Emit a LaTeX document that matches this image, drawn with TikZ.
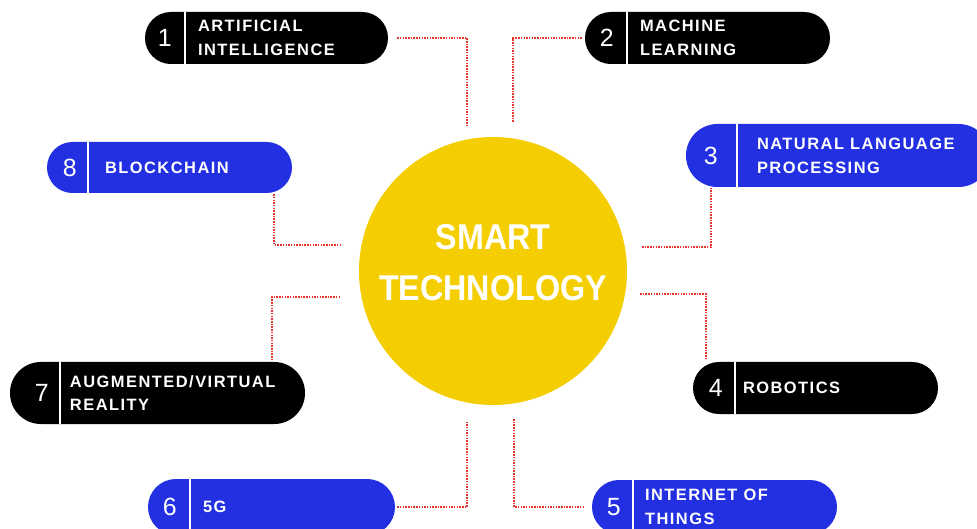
\documentclass[tikz,border=0pt]{standalone}
\usepackage{fontspec}
\setmainfont{Liberation Sans}
\newfontfamily\lblfont[LetterSpace=9]{Liberation Sans}
\newfontfamily\hubfont[FakeStretch=0.9]{Liberation Sans}
\definecolor{ink}{RGB}{0,0,0}
\definecolor{royal}{RGB}{34,48,226}
\definecolor{sun}{RGB}{244,206,0}
\definecolor{dotred}{RGB}{232,52,44}
\tikzset{
  pill/.style={rectangle, inner sep=0pt, minimum height=52bp, rounded corners=25.9bp},
  num/.style={text=white, inner sep=0pt, font=\fontsize{25}{25}\selectfont},
  lbl/.style={text=white, anchor=west, align=left, inner sep=0pt, font=\lblfont\bfseries\fontsize{16.5}{24}\selectfont},
  divider/.style={white, line width=2bp},
  link/.style={dotred, line width=2.2bp, dash pattern=on 1.5bp off 1.2bp},
}
\begin{document}
\begin{tikzpicture}[x=1bp,y=-1bp]
\useasboundingbox (0,0) rectangle (977,529);
\clip (0,0) rectangle (977,529);

% centre
\node (hub) [circle,fill=sun,minimum size=268bp,inner sep=0pt] at (493,271) {};
\node (title) [text=white,align=center,inner sep=0pt,font=\hubfont\bfseries\fontsize{36}{51}\selectfont] at (493,263) {SMART\\TECHNOLOGY};

% pills
\node (p1) [pill,fill=ink,minimum width=243bp] at (266.5,38) {};
\node (n1) [num] at ([xshift=20bp]p1.west) {1};
\draw [divider] ([xshift=40bp]p1.north west) -- ([xshift=40bp]p1.south west);
\node (t1) [lbl] at ([xshift=53bp]p1.west) {ARTIFICIAL\\INTELLIGENCE};

\node (p2) [pill,fill=ink,minimum width=245bp] at (707.5,38) {};
\node (n2) [num] at ([xshift=22bp]p2.west) {2};
\draw [divider] ([xshift=42bp]p2.north west) -- ([xshift=42bp]p2.south west);
\node (t2) [lbl] at ([xshift=55bp]p2.west) {MACHINE\\LEARNING};

\node (p3) [pill,fill=royal,minimum width=304bp,minimum height=63bp,rounded corners=31.4bp] at (838,155.5) {};
\node (n3) [num] at ([xshift=25bp]p3.west) {3};
\draw [divider] ([xshift=51bp]p3.north west) -- ([xshift=51bp]p3.south west);
\node (t3) [lbl] at ([xshift=71bp]p3.west) {NATURAL LANGUAGE\\PROCESSING};

\node (p4) [pill,fill=ink,minimum width=245bp] at (815.5,388) {};
\node (n4) [num] at ([xshift=23bp]p4.west) {4};
\draw [divider] ([xshift=42bp]p4.north west) -- ([xshift=42bp]p4.south west);
\node (t4) [lbl] at ([xshift=50bp]p4.west) {ROBOTICS};

\node (p5) [pill,fill=royal,minimum width=245bp,minimum height=54bp,rounded corners=26.9bp] at (714.5,507) {};
\node (n5) [num] at ([xshift=22bp]p5.west) {5};
\draw [divider] ([xshift=41bp]p5.north west) -- ([xshift=41bp]p5.south west);
\node (t5) [lbl] at ([xshift=53bp]p5.west) {INTERNET OF\\THINGS};

\node (p6) [pill,fill=royal,minimum width=247bp,minimum height=56bp,rounded corners=27.9bp] at (271.5,507) {};
\node (n6) [num] at ([xshift=22bp]p6.west) {6};
\draw [divider] ([xshift=42bp]p6.north west) -- ([xshift=42bp]p6.south west);
\node (t6) [lbl] at ([xshift=55bp]p6.west) {5G};

\node (p7) [pill,fill=ink,minimum width=295bp,minimum height=62bp,rounded corners=30.9bp] at (157.5,393) {};
\node (n7) [num] at ([xshift=32bp]p7.west) {7};
\draw [divider] ([xshift=50bp]p7.north west) -- ([xshift=50bp]p7.south west);
\node (t7) [lbl] at ([xshift=60bp]p7.west) {AUGMENTED/VIRTUAL\\REALITY};

\node (p8) [pill,fill=royal,minimum width=245bp,minimum height=51bp,rounded corners=25.4bp] at (169.5,167.5) {};
\node (n8) [num] at ([xshift=23bp]p8.west) {8};
\draw [divider] ([xshift=41bp]p8.north west) -- ([xshift=41bp]p8.south west);
\node (t8) [lbl] at ([xshift=58bp]p8.west) {BLOCKCHAIN};

% dotted links
\coordinate (c1) at (467,125);
\coordinate (c2) at (513,122);
\coordinate (c3) at (642,247);
\coordinate (c4) at (640,294);
\coordinate (c5) at (514,419);
\coordinate (c6) at (467,422);
\coordinate (c7) at (340,297);
\coordinate (c8) at (340,245);
\draw [link,shorten <=9bp] (p1.east) -| (c1);
\draw [link,shorten >=2bp] (c2) |- (p2.west);
\draw [link,shorten >=1bp] (c3) -| (n3 |- p3.south);
\draw [link,shorten >=2bp] (c4) -| ([xshift=13bp]p4.north west);
\draw [link,shorten >=7bp] (c5) |- (p5.west);
\draw [link,shorten <=2bp] (p6.east) -| (c6);
\draw [link,shorten >=1bp] (c7) -| ([xshift=-33bp]p7.north east);
\draw [link,shorten <=1bp] ([xshift=-18bp]p8.south east) |- (c8);
\end{tikzpicture}
\end{document}
